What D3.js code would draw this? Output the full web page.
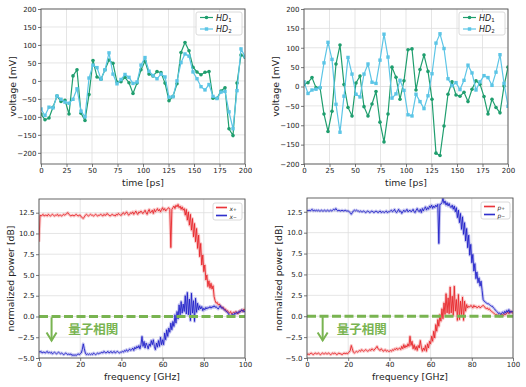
<!DOCTYPE html>
<html>
<head>
<meta charset="utf-8">
<script src="https://cdn.jsdelivr.net/npm/d3@7"></script>
<style>
  body { margin: 0; background: #fff; }
  svg { font-family: "DejaVu Sans", sans-serif; }
</style>
</head>
<body>
<script>
// Dati: serie temporali (52 campioni su 0-200 ps)
const timeSpan = 200;
const timeTicks = [0, 25, 50, 75, 100, 125, 150, 175, 200];
const voltageTicks = [-200, -150, -100, -50, 0, 50, 100, 150, 200];

const hd1Left = [-92, -108, -103, -73, -42, -57, -54, -92, 14, 31, -90, -110, -38, 57, 11, 5, 31, 58, 49, -3,
  -2, 10, -5, -35, -6, 31, 55, 19, 14, 26, 23, -6, -55, -43, -8, 79, 107, 84, 38, 25,
  17, 24, 26, -48, -48, -28, -19, -133, -152, -6, 72, 66];
const hd2Left = [-78, -96, -73, -75, -42, -51, -59, -62, -51, -22, -84, -100, 8, 44, 37, 5, 31, 78, 19, -8,
  4, 18, 10, -7, -3, 44, 65, 27, 15, 6, 19, 11, -45, -44, 0, 51, 75, 69, 25, 6,
  -16, -25, -10, -43, -49, -31, -29, -86, -133, -27, 89, 68];
const hd1Right = [5, 10, 23, -3, -3, -71, -116, -64, 58, 107, 5, -54, -76, 9, 27, -52, -76, -45, -13, -92,
  -143, -71, 50, 24, -33, 15, 95, 97, -9, 44, 81, 39, -33, -172, -178, -102, -20, 12, -22, -25,
  -15, -39, -7, 15, 6, -26, -71, -33, -54, -68, 1, 50];
const hd2Right = [12, -18, -9, -7, -3, 61, 114, 70, -46, -118, -25, 75, 32, -20, -27, 32, 58, 11, 8, 68,
  135, 76, -30, -19, 16, -10, -73, -76, -20, -39, -57, -24, 33, 112, 136, 98, 20, 2, 10, -8,
  16, 55, 35, -9, 12, 28, 23, 3, 37, 82, 8, -51];

// Dati: spettri (passo 0.5 GHz, 0-100 GHz), una riga = 5 GHz
const freqStep = 0.5;
const freqTicks = [0, 20, 40, 60, 80, 100];
const powerTicks = [-5, -2.5, 0, 2.5, 5, 7.5, 10, 12.5];

const xPlus = [
  9.0, 12.2, 12.1, 12.2, 12.3, 12.1, 12.2, 12.2, 12.1, 12.3,
  12.2, 12.1, 12.2, 12.3, 12.2, 12.1, 12.2, 12.2, 12.3, 12.1,
  12.2, 12.2, 12.1, 12.2, 12.3, 12.2, 12.3, 12.4, 12.5, 12.3,
  12.2, 12.1, 12.2, 12.2, 12.1, 12.2, 12.3, 12.2, 12.1, 12.2,
  12.2, 12.0, 11.9, 11.8, 12.0, 12.2, 12.3, 12.2, 12.1, 12.2,
  12.3, 12.2, 12.2, 12.1, 12.2, 12.3, 12.2, 12.1, 12.2, 12.2,
  12.3, 12.2, 12.1, 12.3, 12.2, 12.2, 12.4, 12.3, 12.2, 12.1,
  12.2, 12.3, 12.2, 12.2, 12.1, 12.3, 12.2, 12.4, 12.3, 12.2,
  12.2, 12.4, 12.5, 12.3, 12.4, 12.6, 12.4, 12.2, 12.3, 12.5,
  12.4, 12.6, 12.3, 12.5, 12.7, 12.4, 12.3, 12.6, 12.5, 12.7,
  12.5, 12.4, 12.6, 12.8, 12.5, 12.3, 12.7, 12.9, 12.5, 12.6,
  12.8, 12.4, 12.9, 12.6, 12.8, 13.0, 12.7, 12.9, 12.6, 12.9,
  13.1, 12.8, 13.0, 12.7, 12.9, 13.0, 13.1, 12.9, 8.3, 12.9,
  13.1, 13.3, 13.0, 13.4, 13.2, 13.5, 13.1, 13.3, 12.9, 13.2,
  12.8, 13.0, 12.2, 12.9, 11.6, 12.6, 11.0, 12.3, 10.4, 11.8,
  9.6, 11.2, 9.0, 10.6, 8.2, 9.8, 7.2, 8.8, 6.2, 7.4,
  5.4, 6.2, 4.4, 5.0, 3.6, 4.3, 3.4, 4.0, 3.3, 3.7,
  2.4, 1.9, 1.6, 1.7, 1.4, 1.5, 1.3, 1.2, 1.0, 1.1,
  0.8, 0.9, 0.6, 0.7, 0.5, 0.4, 0.6, 0.3, 0.4, 0.5,
  0.4, 0.6, 0.5, 0.3, 0.5, 0.7, 0.6, 0.8, 0.6, 0.9,
  0.7];
const xMinus = [
  -4.2, -4.3, -4.2, -4.4, -4.3, -4.3, -4.4, -4.3, -4.2, -4.4,
  -4.3, -4.4, -4.3, -4.5, -4.4, -4.3, -4.4, -4.5, -4.4, -4.3,
  -4.4, -4.5, -4.4, -4.5, -4.6, -4.5, -4.4, -4.5, -4.6, -4.5,
  -4.6, -4.5, -4.7, -4.6, -4.7, -4.6, -4.7, -4.6, -4.5, -4.6,
  -4.5, -4.4, -4.0, -3.3, -3.9, -4.4, -4.6, -4.5, -4.6, -4.5,
  -4.6, -4.5, -4.6, -4.4, -4.5, -4.6, -4.5, -4.4, -4.5, -4.4,
  -4.4, -4.3, -4.4, -4.2, -4.3, -4.4, -4.3, -4.2, -4.4, -4.3,
  -4.2, -4.4, -4.3, -4.2, -4.4, -4.3, -4.2, -4.3, -4.4, -4.3,
  -4.3, -4.2, -4.3, -4.1, -4.2, -4.0, -4.2, -4.1, -3.9, -4.1,
  -4.0, -3.8, -4.1, -3.7, -3.9, -3.6, -3.8, -3.5, -3.9, -3.4,
  -2.4, -3.6, -3.0, -3.8, -3.2, -3.5, -3.9, -3.3, -3.6, -2.9,
  -3.4, -2.8, -3.6, -4.0, -3.2, -3.7, -2.9, -3.6, -2.5, -3.4,
  -2.8, -3.4, -2.0, -2.8, -1.6, -2.4, -1.4, -1.9, -0.8, -1.6,
  -0.6, -1.2, 0.2, -0.8, 0.6, -0.3, 1.4, 0.2, 1.8, 0.4,
  1.5, 0.6, 2.5, 0.3, 2.9, 0.2, 2.1, -0.5, 2.8, 0.4,
  1.9, -0.6, 2.2, 0.5, 1.6, 0.8, 1.3, 0.9, 1.2, 0.7,
  1.0, 0.8, 1.1, 0.9, 1.1, 1.0, 1.2, 1.0, 1.2, 1.1,
  1.3, 1.1, 1.2, 1.0, 0.9, 1.1, 1.3, 1.0, 1.1, 0.9,
  0.8, 0.7, 0.6, 0.5, 0.3, 0.1, 0.0, 0.2, 0.3, 0.1,
  0.4, 0.3, 0.5, 0.4, 0.6, 0.5, 0.7, 0.8, 0.6, 0.7,
  0.5];
const pMinus = [
  12.7, 12.6, 12.7, 12.6, 12.7, 12.8, 12.6, 12.7, 12.6, 12.7,
  12.6, 12.7, 12.6, 12.6, 12.7, 12.6, 12.6, 12.7, 12.6, 12.6,
  12.7, 12.6, 12.6, 12.7, 12.6, 12.7, 12.8, 12.7, 12.9, 12.7,
  12.6, 12.7, 12.6, 12.6, 12.7, 12.6, 12.6, 12.7, 12.6, 12.6,
  12.6, 12.5, 12.4, 12.2, 12.4, 12.6, 12.7, 12.6, 12.7, 12.6,
  12.6, 12.5, 12.6, 12.5, 12.5, 12.6, 12.5, 12.4, 12.5, 12.6,
  12.5, 12.4, 12.5, 12.6, 12.5, 12.4, 12.5, 12.6, 12.5, 12.4,
  12.5, 12.6, 12.4, 12.5, 12.5, 12.4, 12.5, 12.6, 12.4, 12.5,
  12.5, 12.6, 12.7, 12.5, 12.6, 12.8, 12.5, 12.4, 12.6, 12.8,
  12.5, 12.6, 12.3, 12.5, 12.7, 12.5, 12.6, 12.8, 12.5, 12.6,
  12.7, 12.5, 12.6, 12.8, 12.5, 12.4, 12.7, 12.9, 12.6, 12.5,
  12.8, 12.4, 12.9, 12.6, 12.9, 13.1, 12.7, 13.0, 12.8, 13.2,
  13.0, 13.3, 12.9, 13.2, 13.0, 13.3, 13.1, 13.4, 8.7, 13.4,
  13.4, 13.6, 14.1, 13.5, 13.8, 13.3, 13.6, 13.2, 13.5, 13.1,
  13.0, 13.3, 12.8, 13.2, 12.5, 13.0, 11.8, 12.7, 11.2, 12.3,
  10.4, 11.9, 9.8, 11.2, 9.0, 10.5, 8.2, 9.7, 7.3, 8.6,
  6.4, 7.4, 5.4, 6.3, 4.5, 5.3, 4.0, 4.6, 3.6, 4.2,
  3.1, 2.0, 1.8, 1.7, 1.6, 1.5, 1.5, 1.4, 1.3, 1.2,
  1.2, 1.0, 0.9, 0.7, 0.6, 0.5, 0.3, 0.4, 0.2, 0.4,
  0.5, 0.3, 0.6, 0.4, 0.7, 0.5, 0.8, 0.4, 0.6, 0.5,
  0.6];
const pPlus = [
  -4.6, -4.5, -4.6, -4.5, -4.4, -4.5, -4.6, -4.5, -4.4, -4.5,
  -4.5, -4.4, -4.5, -4.6, -4.5, -4.4, -4.5, -4.5, -4.4, -4.5,
  -4.5, -4.4, -4.5, -4.6, -4.5, -4.4, -4.5, -4.4, -4.5, -4.6,
  -4.5, -4.4, -4.5, -4.5, -4.6, -4.5, -4.4, -4.5, -4.4, -4.5,
  -4.4, -4.3, -4.1, -3.5, -3.9, -4.3, -4.4, -4.3, -4.2, -4.3,
  -4.2, -4.1, -4.2, -4.0, -4.1, -4.2, -4.1, -4.0, -4.1, -4.2,
  -4.1, -4.0, -4.1, -3.9, -4.0, -4.1, -3.9, -3.8, -3.6, -3.9,
  -4.0, -4.1, -3.9, -4.0, -4.2, -4.1, -4.0, -4.2, -4.1, -4.2,
  -4.2, -4.1, -4.2, -4.0, -4.1, -3.9, -4.0, -3.8, -4.0, -3.9,
  -3.8, -4.0, -3.6, -3.9, -3.4, -3.8, -3.5, -3.7, -3.3, -3.6,
  -2.4, -3.5, -3.0, -3.9, -3.4, -4.0, -3.6, -4.1, -3.5, -3.8,
  -2.9, -3.7, -4.2, -3.8, -4.1, -3.5, -4.2, -3.3, -3.8, -3.0,
  -3.3, -2.4, -3.0, -1.8, -2.6, -1.0, -1.8, -0.4, -1.2, 0.2,
  -0.6, 0.9, -0.3, 1.6, 0.2, 2.7, 0.4, 2.2, 0.3, 3.5,
  0.4, 2.4, 0.1, 3.6, 0.6, 2.0, -0.5, 2.6, -0.4, 1.8,
  0.2, 2.3, -0.5, 1.8, 0.6, 1.4, 1.0, 1.2, 1.1, 1.3,
  1.2, 1.0, 1.3, 1.1, 1.2, 1.0, 1.1, 1.2, 1.0, 1.1,
  1.2, 1.3, 1.2, 1.0, 0.9, 1.0, 0.8, 0.9, 0.7, 0.6,
  0.5, 0.4, 0.3, 0.2, 0.2, 0.1, 0.1, 0.0, 0.1, 0.2,
  0.2, 0.1, 0.3, 0.2, 0.4, 0.5, 0.3, 0.5, 0.6, 0.4,
  0.4];

const labelText = "量子相関";

const green1 = "#1f9e6e",
  blue1 = "#5cc5e6",
  red = "#e8262a",
  blue = "#2020c8",
  hintGreen = "#79b451";

const svg = d3
  .select("body")
  .append("svg")
  .attr("width", 526)
  .attr("height", 387);

let clipId = 0;

// Pannello generico: griglia, assi, cornice
function makePanel(box, xDomain, yDomain, xTicks, yTicks, xFormat, yFormat, xLabel, yLabel) {
  const x = d3.scaleLinear().domain(xDomain).range([box.left, box.right]);
  const y = d3.scaleLinear().domain(yDomain).range([box.bottom, box.top]);
  const g = svg.append("g");

  g.append("g")
    .selectAll("line")
    .data(xTicks)
    .join("line")
    .attr("x1", (d) => x(d))
    .attr("x2", (d) => x(d))
    .attr("y1", box.top)
    .attr("y2", box.bottom)
    .attr("stroke", "#dedede")
    .attr("stroke-width", 0.8);

  g.append("g")
    .selectAll("line")
    .data(yTicks)
    .join("line")
    .attr("x1", box.left)
    .attr("x2", box.right)
    .attr("y1", (d) => y(d))
    .attr("y2", (d) => y(d))
    .attr("stroke", "#dedede")
    .attr("stroke-width", 0.8);

  const xAxis = g
    .append("g")
    .attr("transform", `translate(0,${box.bottom})`)
    .call(d3.axisBottom(x).tickValues(xTicks).tickFormat(xFormat).tickSize(3).tickPadding(1.5));
  const yAxis = g
    .append("g")
    .attr("transform", `translate(${box.left},0)`)
    .call(d3.axisLeft(y).tickValues(yTicks).tickFormat(yFormat).tickSize(3).tickPadding(1.5));

  [xAxis, yAxis].forEach((a) => {
    a.select(".domain").remove();
    a.selectAll("line").attr("stroke", "#555").attr("stroke-width", 0.8);
    a.selectAll("text").attr("font-size", "7px").attr("fill", "#222").attr("font-family", "DejaVu Sans");
  });

  g.append("text")
    .attr("x", (box.left + box.right) / 2)
    .attr("y", box.bottom + 18)
    .attr("text-anchor", "middle")
    .attr("dominant-baseline", "central")
    .attr("font-size", "9.3px")
    .attr("fill", "#222")
    .text(xLabel);

  g.append("text")
    .attr("transform", `translate(${box.left - 29},${(box.top + box.bottom) / 2}) rotate(-90)`)
    .attr("text-anchor", "middle")
    .attr("dominant-baseline", "central")
    .attr("font-size", "9.3px")
    .attr("fill", "#222")
    .text(yLabel);

  const id = "clip" + clipId++;
  svg
    .append("clipPath")
    .attr("id", id)
    .append("rect")
    .attr("x", box.left)
    .attr("y", box.top)
    .attr("width", box.right - box.left)
    .attr("height", box.bottom - box.top);
  const plot = g.append("g").attr("clip-path", `url(#${id})`);

  return { g, x, y, plot, box };
}

function frame(p) {
  p.g.append("rect")
    .attr("x", p.box.left)
    .attr("y", p.box.top)
    .attr("width", p.box.right - p.box.left)
    .attr("height", p.box.bottom - p.box.top)
    .attr("fill", "none")
    .attr("stroke", "#555")
    .attr("stroke-width", 0.9);
}

// Pannelli in alto: tensione nel tempo
const fmtInt = d3.format("d");
function drawTimePanel(box, yDomain, hd1, hd2) {
  const p = makePanel(box, [0, timeSpan], yDomain, timeTicks, voltageTicks, fmtInt, fmtInt, "time [ps]", "voltage [mV]");
  const t = (i) => (i * timeSpan) / (hd1.length - 1);
  const line = d3.line().x((d, i) => p.x(t(i))).y((d) => p.y(d));

  p.plot.append("path").attr("d", line(hd1)).attr("fill", "none").attr("stroke", green1).attr("stroke-width", 1.2);
  p.plot.append("g")
    .selectAll("circle")
    .data(hd1)
    .join("circle")
    .attr("cx", (d, i) => p.x(t(i)))
    .attr("cy", (d) => p.y(d))
    .attr("r", 1.8)
    .attr("fill", green1);

  p.plot.append("path").attr("d", line(hd2)).attr("fill", "none").attr("stroke", blue1).attr("stroke-width", 1.2);
  p.plot.append("g")
    .selectAll("rect")
    .data(hd2)
    .join("rect")
    .attr("x", (d, i) => p.x(t(i)) - 1.7)
    .attr("y", (d) => p.y(d) - 1.7)
    .attr("width", 3.4)
    .attr("height", 3.4)
    .attr("fill", blue1);

  frame(p);

  // Legenda
  const lg = p.g.append("g").attr("transform", `translate(${box.right - 49},${box.top + 3})`);
  lg.append("rect")
    .attr("width", 46)
    .attr("height", 23)
    .attr("rx", 2)
    .attr("fill", "#fff")
    .attr("fill-opacity", 0.85)
    .attr("stroke", "#d0d0d0")
    .attr("stroke-width", 0.8);
  [
    { c: green1, sub: "1", row: 5.5, shape: "circle" },
    { c: blue1, sub: "2", row: 17, shape: "square" }
  ].forEach((el) => {
    lg.append("line").attr("x1", 4).attr("x2", 17).attr("y1", el.row).attr("y2", el.row).attr("stroke", el.c).attr("stroke-width", 1.2);
    if (el.shape == "circle") {
      lg.append("circle").attr("cx", 10.5).attr("cy", el.row).attr("r", 1.8).attr("fill", el.c);
    } else {
      lg.append("rect").attr("x", 8.8).attr("y", el.row - 1.7).attr("width", 3.4).attr("height", 3.4).attr("fill", el.c);
    }
    const tx = lg.append("text").attr("x", 20).attr("y", el.row).attr("dominant-baseline", "central").attr("font-size", "8px").attr("fill", "#222");
    tx.append("tspan").attr("font-style", "italic").text("HD");
    tx.append("tspan").attr("font-size", "5.5px").attr("dy", 2).text(el.sub);
  });
}

drawTimePanel({ left: 41, right: 245, top: 9, bottom: 164 }, [-231, 200], hd1Left, hd2Left);
drawTimePanel({ left: 304, right: 508, top: 9, bottom: 164 }, [-200, 200], hd1Right, hd2Right);

// Pannelli in basso: spettri di potenza
const fmtPow = d3.format(".1f");
function drawSpectrumPanel(box, series, sym, arrowF, textF) {
  const p = makePanel(box, [0, 100], [-5, 14.15], freqTicks, powerTicks, fmtInt, fmtPow, "frequency [GHz]", "normalized power [dB]");
  const line = d3.line().x((d, i) => p.x(i * freqStep)).y((d) => p.y(d));

  series.forEach((s) => {
    p.plot.append("path").attr("d", line(s.values)).attr("fill", "none").attr("stroke", s.color).attr("stroke-opacity", 0.25).attr("stroke-width", 3).attr("stroke-linejoin", "round");
    p.plot.append("path").attr("d", line(s.values)).attr("fill", "none").attr("stroke", s.color).attr("stroke-width", 0.9).attr("stroke-linejoin", "round");
  });

  // linea tratteggiata a 0 dB
  p.plot.append("line")
    .attr("x1", p.x(0))
    .attr("x2", p.x(100))
    .attr("y1", p.y(0))
    .attr("y2", p.y(0))
    .attr("stroke", hintGreen)
    .attr("stroke-width", 3)
    .attr("stroke-dasharray", "9,3.5");

  // freccia verso il basso
  const ax = p.x(arrowF),
    ay0 = p.y(-0.1),
    ay1 = p.y(-2.9);
  p.g.append("line").attr("x1", ax).attr("x2", ax).attr("y1", ay0).attr("y2", ay1).attr("stroke", hintGreen).attr("stroke-width", 2);
  p.g.append("path")
    .attr("d", `M${ax - 5},${ay1 - 8} L${ax},${ay1} L${ax + 5},${ay1 - 8}`)
    .attr("fill", "none")
    .attr("stroke", hintGreen)
    .attr("stroke-width", 2);

  p.g.append("text")
    .attr("x", p.x(textF))
    .attr("y", p.y(-1.45))
    .attr("dominant-baseline", "central")
    .attr("font-family", "Noto Sans CJK JP")
    .attr("font-weight", "bold")
    .attr("font-size", "12.5px")
    .attr("fill", hintGreen)
    .text(labelText);

  frame(p);

  // Legenda
  const lg = p.g.append("g").attr("transform", `translate(${box.right - 32},${box.top + 4})`);
  lg.append("rect")
    .attr("width", 29)
    .attr("height", 17)
    .attr("rx", 2)
    .attr("fill", "#fff")
    .attr("fill-opacity", 0.85)
    .attr("stroke", "#d0d0d0")
    .attr("stroke-width", 0.8);
  series.forEach((s, k) => {
    const row = 4.5 + k * 8;
    lg.append("line").attr("x1", 3).attr("x2", 14).attr("y1", row).attr("y2", row).attr("stroke", s.color).attr("stroke-opacity", 0.3).attr("stroke-width", 3);
    lg.append("line").attr("x1", 3).attr("x2", 14).attr("y1", row).attr("y2", row).attr("stroke", s.color).attr("stroke-width", 0.9);
    const tx = lg.append("text").attr("x", 16.5).attr("y", row).attr("dominant-baseline", "central").attr("font-size", "6px").attr("fill", "#222");
    tx.append("tspan").attr("font-style", "italic").text(sym);
    tx.append("tspan").attr("font-size", "4.5px").attr("dy", 1.5).text(s.sign);
  });
}

drawSpectrumPanel(
  { left: 39, right: 245, top: 199, bottom: 358 },
  [
    { values: xPlus, color: red, sign: "+" },
    { values: xMinus, color: blue, sign: "−" }
  ],
  "x",
  6.1,
  14.2
);
drawSpectrumPanel(
  { left: 307, right: 513, top: 198, bottom: 358 },
  [
    { values: pPlus, color: red, sign: "+" },
    { values: pMinus, color: blue, sign: "−" }
  ],
  "p",
  7.6,
  14.4
);
</script>
</body>
</html>
